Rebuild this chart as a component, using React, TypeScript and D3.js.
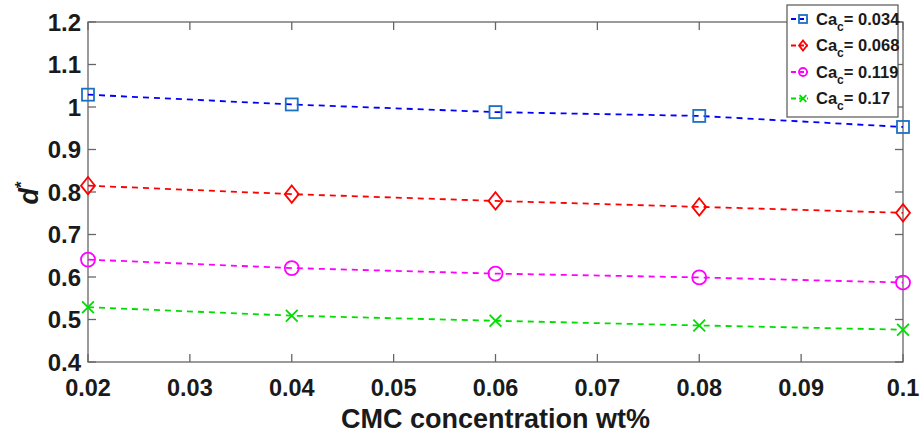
import React from "react";
import * as d3 from "d3";

const xValues = [0.02, 0.04, 0.06, 0.08, 0.1];
const seriesNames = ["0.034", "0.068", "0.119", "0.17"];
const blueVals = [1.029, 1.006, 0.988, 0.979, 0.953];
const redVals = [0.815, 0.795, 0.779, 0.765, 0.751];
const magentaVals = [0.641, 0.621, 0.608, 0.599, 0.587];
const greenVals = [0.529, 0.509, 0.497, 0.486, 0.476];
const xTicks = [0.02, 0.03, 0.04, 0.05, 0.06, 0.07, 0.08, 0.09, 0.1];
const yTicks = [0.4, 0.5, 0.6, 0.7, 0.8, 0.9, 1.0, 1.1, 1.2];

const W = 921, H = 438;
const L = 88, R = 903, T = 22, B = 362;

const series = [
  { name: seriesNames[0], vals: blueVals, line: "#0000ff", mk: "#1a72c2", shape: "square" },
  { name: seriesNames[1], vals: redVals, line: "#ff0000", mk: "#ff0000", shape: "diamond" },
  { name: seriesNames[2], vals: magentaVals, line: "#ff00ff", mk: "#ff00ff", shape: "circle" },
  { name: seriesNames[3], vals: greenVals, line: "#00dd00", mk: "#00dd00", shape: "x" },
];

function Marker({ shape, x, y, s, color }: { shape: string; x: number; y: number; s: number; color: string }) {
  const sw = 1.8;
  if (shape === "square")
    return <rect x={x - s / 2} y={y - s / 2} width={s} height={s} fill="none" stroke={color} strokeWidth={sw} />;
  if (shape === "diamond")
    return (
      <path
        d={`M${x},${y - s * 0.62}L${x + s * 0.5},${y}L${x},${y + s * 0.62}L${x - s * 0.5},${y}Z`}
        fill="none"
        stroke={color}
        strokeWidth={sw}
      />
    );
  if (shape === "circle") return <circle cx={x} cy={y} r={s / 2} fill="none" stroke={color} strokeWidth={sw} />;
  const h = s * 0.42;
  return (
    <path
      d={`M${x - h},${y - h}L${x + h},${y + h}M${x - h},${y + h}L${x + h},${y - h}`}
      stroke={color}
      strokeWidth={sw}
    />
  );
}

export default function App() {
  const x = d3.scaleLinear().domain([0.02, 0.1]).range([L, R]);
  const y = d3.scaleLinear().domain([0.4, 1.2]).range([B, T]);
  const line = d3
    .line<number>()
    .x((_, i) => x(xValues[i]))
    .y((d) => y(d));
  const axisColor = "#666";
  const tickLen = 8;
  const ink = "#1a1a1a";
  return (
    <svg
      width={W}
      height={H}
      style={{ position: "absolute", left: 0, top: 0, background: "#fff" }}
      fontFamily="'Liberation Sans', Arial, sans-serif"
    >
      <rect x={0} y={0} width={W} height={H} fill="#fff" />
      <rect x={L} y={T} width={R - L} height={B - T} fill="none" stroke={axisColor} strokeWidth={1.3} />
      {xTicks.map((t) => (
        <g key={"xt" + t}>
          <line x1={x(t)} x2={x(t)} y1={B} y2={B - tickLen} stroke={axisColor} strokeWidth={1.3} />
          <line x1={x(t)} x2={x(t)} y1={T} y2={T + tickLen} stroke={axisColor} strokeWidth={1.3} />
          <text x={x(t)} y={396} textAnchor="middle" fontWeight="bold" fontSize={23.5} fill={ink}>
            {d3.format("~g")(t)}
          </text>
        </g>
      ))}
      {yTicks.map((t) => (
        <g key={"yt" + t}>
          <line x1={L} x2={L + tickLen} y1={y(t)} y2={y(t)} stroke={axisColor} strokeWidth={1.3} />
          <line x1={R} x2={R - tickLen} y1={y(t)} y2={y(t)} stroke={axisColor} strokeWidth={1.3} />
          <text x={81} y={y(t) + 8.5} textAnchor="end" fontWeight="bold" fontSize={24} fill={ink}>
            {d3.format("~g")(t)}
          </text>
        </g>
      ))}
      {series.map((s) => (
        <g key={s.name}>
          <path d={line(s.vals) || ""} fill="none" stroke={s.line} strokeWidth={1.8} strokeDasharray="6,5" />
          {s.vals.map((v, i) => (
            <Marker
              key={i}
              shape={s.shape}
              x={x(xValues[i])}
              y={y(v)}
              s={s.shape === "square" ? 12 : 14}
              color={s.mk}
            />
          ))}
        </g>
      ))}
      <text x={(L + R) / 2} y={428} textAnchor="middle" fontWeight="bold" fontSize={27} fill={ink}>
        CMC concentration wt%
      </text>
      <text transform="translate(38,193) rotate(-90)" textAnchor="middle" fontWeight="bold" fontSize={27} fill={ink}>
        <tspan fontStyle="italic">d</tspan>
        <tspan dy={-11} fontSize={17}>*</tspan>
      </text>
      <rect x={787} y={5} width={111} height={112} fill="#fff" stroke="#555" strokeWidth={1.2} />
      {series.map((s, i) => {
        const cy = 19 + i * 26.5;
        return (
          <g key={"lg" + s.name}>
            <line x1={791} x2={808} y1={cy} y2={cy} stroke={s.line} strokeWidth={1.8} strokeDasharray="5,3" />
            <Marker shape={s.shape} x={803} y={cy} s={8} color={s.mk} />
            <text x={816} y={cy + 5.5} fontWeight="bold" fontSize={16.5} fill={ink}>
              Ca
              <tspan dy={6} fontSize={12}>c</tspan>
              <tspan dy={-6}>= {s.name}</tspan>
            </text>
          </g>
        );
      })}
    </svg>
  );
}
